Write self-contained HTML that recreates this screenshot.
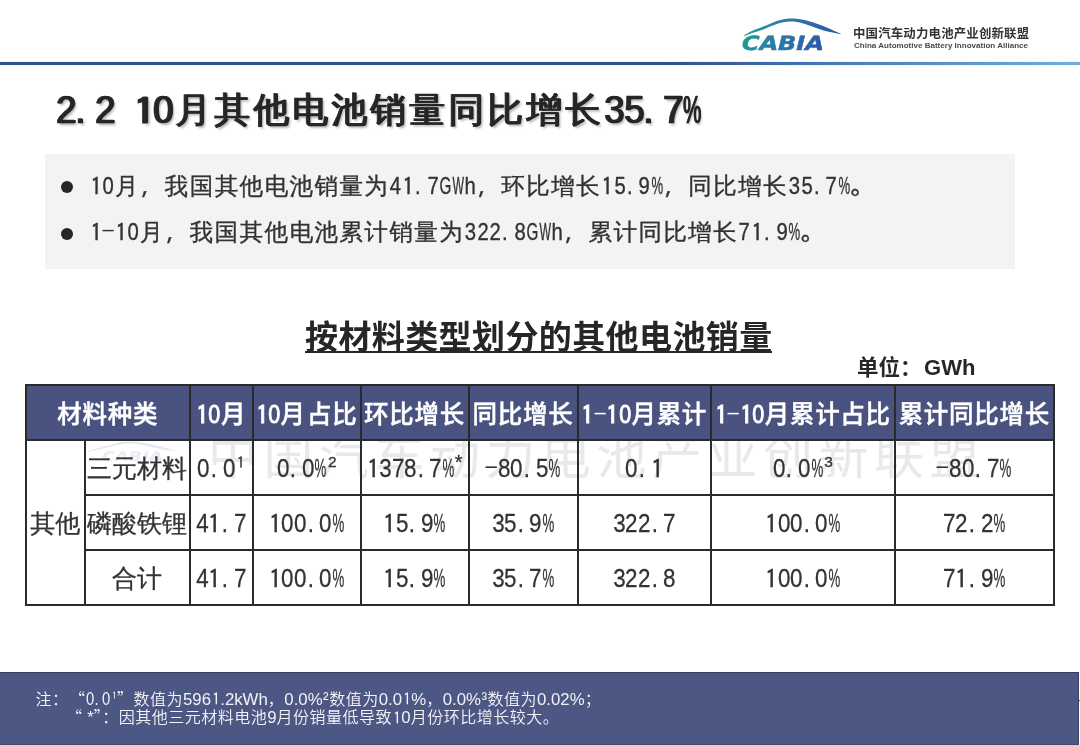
<!DOCTYPE html>
<html lang="zh-CN">
<head>
<meta charset="utf-8">
<title>2.2 10月其他电池销量同比增长35.7%</title>
<style>
*{margin:0;padding:0;box-sizing:border-box}
html,body{width:1080px;height:745px;overflow:hidden;background:#fff}
body{will-change:transform}
body{position:relative;font-family:"WenQuanYi Zen Hei","Noto Sans CJK SC",sans-serif;color:#333}
i{font-style:normal}
i.c{display:inline-block;text-align:left;white-space:nowrap;letter-spacing:0;overflow:visible}
i.g{display:inline-block;transform-origin:0 50%}
.h{font-family:"Liberation Sans",Arial,sans-serif;letter-spacing:0}
#topline{position:absolute;left:0;top:62px;width:1080px;height:3px;box-shadow:0 0 1px rgba(47,80,145,.5);background:linear-gradient(to right,#2f5091 0%,#2f5091 62%,#4c7fc4 80%,#72aee0 100%)}
#logo{position:absolute;left:738px;top:14px;width:110px;height:40px}
#cn{position:absolute;left:853px;top:24px;font:bold 12.4px "Noto Sans CJK SC",sans-serif;letter-spacing:0.2px;color:#333;white-space:nowrap}
#en{position:absolute;left:854px;top:40px;width:176px;height:10px}
#title{position:absolute;left:55.5px;top:83.5px;font-size:35.5px;letter-spacing:3.5px;line-height:48px;color:#262626;white-space:nowrap;-webkit-text-stroke:0.8px #262626;text-shadow:0.8px 0 0 #262626,1.6px 0 0 #262626,2.5px 2px 2.5px rgba(0,0,0,.35)}
#title .h{-webkit-text-stroke:0.6px #262626;position:relative;top:1px;font-weight:normal}
#box{position:absolute;left:45px;top:154px;width:970px;height:115px;background:#f2f3f3}
.bl{position:absolute;left:90px;font-family:"WenQuanYi Zen Hei Mono","WenQuanYi Zen Hei","Noto Sans CJK SC",sans-serif;font-size:23.5px;line-height:30px;color:#333;white-space:nowrap;letter-spacing:1.45px;-webkit-text-stroke:0.35px #333}
.dot{position:absolute;left:61px;width:12px;height:12px;border-radius:50%;background:#262626}
#ttitle{position:absolute;left:305px;top:314px;font:bold 33px "Noto Sans CJK SC",sans-serif;letter-spacing:0.4px;line-height:42px;color:#262626;white-space:nowrap}
#uline{position:absolute;left:304.5px;top:350.6px;width:467px;height:2.2px;background:#262626}
#unit{position:absolute;left:857px;top:352px;font:bold 21.5px "Liberation Sans","Noto Sans CJK SC",sans-serif;line-height:28px;color:#262626;white-space:nowrap}
#unit .cj{font-family:"Noto Sans CJK SC",sans-serif}
table{position:absolute;left:25px;top:384px;border-collapse:collapse;table-layout:fixed}
td,th{border:2px solid #2b2b2b;text-align:center;vertical-align:middle;white-space:nowrap;padding:0;overflow:visible}
th{background:#4a5380;color:#fff;font:bold 24.5px "Liberation Sans","Noto Sans CJK SC",sans-serif;height:55px;letter-spacing:0}
th .cj{font-family:"Noto Sans CJK SC",sans-serif;letter-spacing:0.7px;font-weight:500;-webkit-text-stroke:0.45px #fff}
th .h{font-weight:normal;-webkit-text-stroke:0.9px #fff}
th{word-spacing:-5px}
td{font-size:25px;color:#333;height:55px;letter-spacing:0;padding-top:2px;-webkit-text-stroke:0.3px #333}
.sup{position:relative;font-family:"Liberation Sans",sans-serif;font-size:15.5px;top:-10px;line-height:1;margin-left:1px}
#wm{position:absolute;left:208px;top:427px;font:400 50px/50px "Noto Sans CJK SC",sans-serif;color:#e9e9e9;white-space:nowrap;letter-spacing:5.5px}
#wml{position:absolute;left:84px;top:436px;width:104px;height:32px}
#foot{position:absolute;left:0;top:672px;width:1079px;height:73px;background:#4c5784;border-top:1.5px solid #3a3f5c;border-right:1.2px solid #3d4262;border-bottom:1px solid #454a68;color:#fff}
.one{font-family:IPAGothic,"Liberation Sans",sans-serif;font-size:0.983em;position:relative;top:0.05em;padding-left:0.06em}
#tick{position:absolute;left:1078px;top:700px;width:2px;height:1px;background:#555}
.fl{position:absolute;white-space:nowrap;font-size:16.8px;line-height:20px;font-family:"Liberation Sans","Noto Sans CJK SC",sans-serif;color:#f2f3f7}
.fl .cj{font-family:"Noto Sans CJK SC",sans-serif;font-size:16px;letter-spacing:0.5px;font-weight:350}
.fl .su{margin:0 0.5px}
</style>
</head>
<body>
<svg id="logo" viewBox="0 0 110 40" width="110" height="40">
  <defs>
    <linearGradient id="lg" x1="0" x2="1" y1="0" y2="0">
      <stop offset="0" stop-color="#1f9a8e"/>
      <stop offset="0.35" stop-color="#2a80a8"/>
      <stop offset="1" stop-color="#2e56a8"/>
    </linearGradient>
    <linearGradient id="lg2" x1="0" x2="1" y1="0" y2="0">
      <stop offset="0" stop-color="#25a090"/>
      <stop offset="0.3" stop-color="#2a85aa"/>
      <stop offset="1" stop-color="#2d55a6"/>
    </linearGradient>
  </defs>
  <path d="M6.4,21.2 C7.7,20.5 11.0,18.2 14.2,16.8 C17.3,15.4 21.2,14.2 25.3,12.6 C29.4,11.0 35.0,8.4 38.7,7.1 C42.4,5.8 44.3,5.3 47.6,4.9 C50.9,4.5 54.6,4.4 58.7,4.8 C62.8,5.2 67.4,6.2 72.0,7.5 C76.6,8.8 81.1,10.5 86.4,12.6 C91.7,14.7 100.7,19.0 103.6,20.3 L103.6,20.3 C100.7,19.7 91.7,18.1 86.4,16.7 C81.1,15.3 76.6,13.1 72.0,11.7 C67.4,10.2 62.8,8.6 58.7,8.0 C54.6,7.4 50.9,7.6 47.6,7.9 C44.3,8.2 42.4,8.8 38.7,10.0 C35.0,11.2 29.4,13.9 25.3,15.4 C21.2,16.9 17.3,17.8 14.2,18.9 C11.0,20.0 7.7,21.6 6.4,22.2 Z" fill="url(#lg2)"/>
  <text x="2.5" y="36" font-family="DejaVu Sans" font-weight="bold" font-size="19.5" fill="url(#lg)" stroke="url(#lg)" stroke-width="0.5" textLength="82" lengthAdjust="spacingAndGlyphs" transform="skewX(-14) translate(8.5,0)">CABIA</text>
</svg>
<div id="cn">中国汽车动力电池产业创新联盟</div>
<svg id="en" viewBox="0 0 176 10" width="176" height="10"><text x="0" y="8.2" font-family="Liberation Sans" font-weight="bold" font-size="8" fill="#4a4a4a" textLength="174" lengthAdjust="spacing">China Automotive Battery Innovation Alliance</text></svg>
<div id="topline"></div>
<div id="title"><span class="h" style="font-size:38.00px"><i class="c" style="width:19.50px"><i class="g" style="transform:translateX(-0.39px) scaleX(0.960)">2</i></i><i class="c" style="width:19.50px"><i class="g" style="transform:translateX(-0.20px) scaleX(0.960)">.</i></i><i class="c" style="width:19.50px"><i class="g" style="transform:translateX(-0.39px) scaleX(0.960)">2</i></i><i class="c" style="width:19.50px"> </i><i class="c" style="width:19.50px"><i class="g" style="font-family:IPAGothic,'Liberation Sans',sans-serif;font-size:37.35px;transform:translate(-0.72px,1.91px) scaleX(1.152);-webkit-text-stroke:1.14px currentColor">1</i></i><i class="c" style="width:19.50px"><i class="g" style="transform:translateX(-0.39px) scaleX(0.960)">0</i></i></span><span style="margin-left:2.5px">月其他电池销量同比增长</span><span class="h" style="font-size:38.00px"><i class="c" style="width:19.50px"><i class="g" style="transform:translateX(-0.28px) scaleX(0.960)">3</i></i><i class="c" style="width:19.50px"><i class="g" style="transform:translateX(-0.35px) scaleX(0.960)">5</i></i><i class="c" style="width:19.50px"><i class="g" style="transform:translateX(-0.20px) scaleX(0.960)">.</i></i><i class="c" style="width:19.50px"><i class="g" style="transform:translateX(-0.41px) scaleX(0.960)">7</i></i><i class="c" style="width:19.50px"><i class="g" style="transform:translateX(0.63px) scaleX(0.540)">%</i></i></span></div>
<div id="box"></div>
<div class="dot" style="top:181px"></div>
<div class="bl" style="top:170px"><span class="h" style="font-size:23.70px"><i class="c" style="width:12.45px"><i class="g" style="font-family:IPAGothic,'Liberation Sans',sans-serif;font-size:23.30px;transform:translate(0.30px,1.19px) scaleX(1.026)">1</i></i><i class="c" style="width:12.45px"><i class="g" style="transform:translateX(0.59px) scaleX(0.855)">0</i></i></span>月，我国其他电池销量为<span class="h" style="font-size:23.70px"><i class="c" style="width:12.45px"><i class="g" style="transform:translateX(0.65px) scaleX(0.855)">4</i></i><i class="c" style="width:12.45px"><i class="g" style="font-family:IPAGothic,'Liberation Sans',sans-serif;font-size:23.30px;transform:translate(0.30px,1.19px) scaleX(1.026)">1</i></i><i class="c" style="width:12.45px"><i class="g" style="transform:translateX(0.92px) scaleX(0.855)">.</i></i><i class="c" style="width:12.45px"><i class="g" style="transform:translateX(0.58px) scaleX(0.855)">7</i></i><i class="c" style="width:12.45px"><i class="g" style="transform:translateX(0.48px) scaleX(0.644)">G</i></i><i class="c" style="width:12.45px"><i class="g" style="transform:translateX(0.45px) scaleX(0.516)">W</i></i><i class="c" style="width:12.45px"><i class="g" style="transform:translateX(0.55px) scaleX(0.855)">h</i></i></span>，环比增长<span class="h" style="font-size:23.70px"><i class="c" style="width:12.45px"><i class="g" style="font-family:IPAGothic,'Liberation Sans',sans-serif;font-size:23.30px;transform:translate(0.30px,1.19px) scaleX(1.026)">1</i></i><i class="c" style="width:12.45px"><i class="g" style="transform:translateX(0.61px) scaleX(0.855)">5</i></i><i class="c" style="width:12.45px"><i class="g" style="transform:translateX(0.92px) scaleX(0.855)">.</i></i><i class="c" style="width:12.45px"><i class="g" style="transform:translateX(0.59px) scaleX(0.855)">9</i></i><i class="c" style="width:12.45px"><i class="g" style="transform:translateX(0.40px) scaleX(0.552)">%</i></i></span>，同比增长<span class="h" style="font-size:23.70px"><i class="c" style="width:12.45px"><i class="g" style="transform:translateX(0.65px) scaleX(0.855)">3</i></i><i class="c" style="width:12.45px"><i class="g" style="transform:translateX(0.61px) scaleX(0.855)">5</i></i><i class="c" style="width:12.45px"><i class="g" style="transform:translateX(0.92px) scaleX(0.855)">.</i></i><i class="c" style="width:12.45px"><i class="g" style="transform:translateX(0.58px) scaleX(0.855)">7</i></i><i class="c" style="width:12.45px"><i class="g" style="transform:translateX(0.40px) scaleX(0.552)">%</i></i></span>。</div>
<div class="dot" style="top:228px"></div>
<div class="bl" style="top:216px"><span class="h" style="font-size:23.70px"><i class="c" style="width:12.45px"><i class="g" style="font-family:IPAGothic,'Liberation Sans',sans-serif;font-size:23.30px;transform:translate(0.30px,1.19px) scaleX(1.026)">1</i></i><i class="c" style="width:12.45px"><i class="g" style="transform:translate(-1.39px,-2.01px) scale(1.930,0.75);-webkit-text-stroke:0">-</i></i><i class="c" style="width:12.45px"><i class="g" style="font-family:IPAGothic,'Liberation Sans',sans-serif;font-size:23.30px;transform:translate(0.30px,1.19px) scaleX(1.026)">1</i></i><i class="c" style="width:12.45px"><i class="g" style="transform:translateX(0.59px) scaleX(0.855)">0</i></i></span>月，我国其他电池累计销量为<span class="h" style="font-size:23.70px"><i class="c" style="width:12.45px"><i class="g" style="transform:translateX(0.65px) scaleX(0.855)">3</i></i><i class="c" style="width:12.45px"><i class="g" style="transform:translateX(0.59px) scaleX(0.855)">2</i></i><i class="c" style="width:12.45px"><i class="g" style="transform:translateX(0.59px) scaleX(0.855)">2</i></i><i class="c" style="width:12.45px"><i class="g" style="transform:translateX(0.92px) scaleX(0.855)">.</i></i><i class="c" style="width:12.45px"><i class="g" style="transform:translateX(0.59px) scaleX(0.855)">8</i></i><i class="c" style="width:12.45px"><i class="g" style="transform:translateX(0.48px) scaleX(0.644)">G</i></i><i class="c" style="width:12.45px"><i class="g" style="transform:translateX(0.45px) scaleX(0.516)">W</i></i><i class="c" style="width:12.45px"><i class="g" style="transform:translateX(0.55px) scaleX(0.855)">h</i></i></span>，累计同比增长<span class="h" style="font-size:23.70px"><i class="c" style="width:12.45px"><i class="g" style="transform:translateX(0.58px) scaleX(0.855)">7</i></i><i class="c" style="width:12.45px"><i class="g" style="font-family:IPAGothic,'Liberation Sans',sans-serif;font-size:23.30px;transform:translate(0.30px,1.19px) scaleX(1.026)">1</i></i><i class="c" style="width:12.45px"><i class="g" style="transform:translateX(0.92px) scaleX(0.855)">.</i></i><i class="c" style="width:12.45px"><i class="g" style="transform:translateX(0.59px) scaleX(0.855)">9</i></i><i class="c" style="width:12.45px"><i class="g" style="transform:translateX(0.40px) scaleX(0.552)">%</i></i></span>。</div>
<div id="ttitle">按材料类型划分的其他电池销量</div>
<div id="uline"></div>
<div id="unit"><span class="cj">单位：</span><span style="margin-left:2.5px;font-size:22px">GWh</span></div>
<div id="wm">中国汽车动力电池产业创新联盟</div>
<svg id="wml" viewBox="0 0 104 32" width="104" height="32">
  <g transform="translate(-3.5,2.8) scale(0.93,0.62)"><path d="M6.4,21.2 C7.7,20.5 11.0,18.2 14.2,16.8 C17.3,15.4 21.2,14.2 25.3,12.6 C29.4,11.0 35.0,8.4 38.7,7.1 C42.4,5.8 44.3,5.3 47.6,4.9 C50.9,4.5 54.6,4.4 58.7,4.8 C62.8,5.2 67.4,6.2 72.0,7.5 C76.6,8.8 81.1,10.5 86.4,12.6 C91.7,14.7 100.7,19.0 103.6,20.3 L103.6,20.3 C100.7,19.7 91.7,18.1 86.4,16.7 C81.1,15.3 76.6,13.1 72.0,11.7 C67.4,10.2 62.8,8.6 58.7,8.0 C54.6,7.4 50.9,7.6 47.6,7.9 C44.3,8.2 42.4,8.8 38.7,10.0 C35.0,11.2 29.4,13.9 25.3,15.4 C21.2,16.9 17.3,17.8 14.2,18.9 C11.0,20.0 7.7,21.6 6.4,22.2 Z" fill="#e3e7ef"/></g>
  <text x="17" y="25.5" font-family="DejaVu Sans" font-weight="bold" font-size="13" fill="#e9ecf3" textLength="61" lengthAdjust="spacingAndGlyphs" transform="skewX(-14) translate(6,0)">CABIA</text>
</svg>
<table>
<colgroup><col style="width:58.5px"><col style="width:105px"><col style="width:63px"><col style="width:108px"><col style="width:108px"><col style="width:109px"><col style="width:133.5px"><col style="width:183.5px"><col style="width:159.5px"></colgroup>
<tr><th colspan="2"><span class="cj">材料种类</span></th><th><span class="h" style="font-size:25px"><i class="c" style="width:12.50px"><i class="g" style="font-family:IPAGothic,'Liberation Sans',sans-serif;font-size:24.57px;transform:translate(0.01px,1.25px) scaleX(1.032)">1</i></i><i class="c" style="width:12.50px"><i class="g" style="transform:translateX(0.27px) scaleX(0.860)">0</i></i></span><span class="cj">月</span></th><th><span class="h" style="font-size:25px"><i class="c" style="width:12.50px"><i class="g" style="font-family:IPAGothic,'Liberation Sans',sans-serif;font-size:24.57px;transform:translate(0.01px,1.25px) scaleX(1.032)">1</i></i><i class="c" style="width:12.50px"><i class="g" style="transform:translateX(0.27px) scaleX(0.860)">0</i></i></span><span class="cj">月 占比</span></th><th><span class="cj">环比增长</span></th><th><span class="cj">同比增长</span></th><th><span class="h" style="font-size:25px"><i class="c" style="width:12.50px"><i class="g" style="font-family:IPAGothic,'Liberation Sans',sans-serif;font-size:24.57px;transform:translate(0.01px,1.25px) scaleX(1.032)">1</i></i><i class="c" style="width:12.50px"><i class="g" style="transform:translate(-1.40px,-2.12px) scale(1.837,0.75);-webkit-text-stroke:0">-</i></i><i class="c" style="width:12.50px"><i class="g" style="font-family:IPAGothic,'Liberation Sans',sans-serif;font-size:24.57px;transform:translate(0.01px,1.25px) scaleX(1.032)">1</i></i><i class="c" style="width:12.50px"><i class="g" style="transform:translateX(0.27px) scaleX(0.860)">0</i></i></span><span class="cj">月累计</span></th><th><span class="h" style="font-size:25px"><i class="c" style="width:12.50px"><i class="g" style="font-family:IPAGothic,'Liberation Sans',sans-serif;font-size:24.57px;transform:translate(0.01px,1.25px) scaleX(1.032)">1</i></i><i class="c" style="width:12.50px"><i class="g" style="transform:translate(-1.40px,-2.12px) scale(1.837,0.75);-webkit-text-stroke:0">-</i></i><i class="c" style="width:12.50px"><i class="g" style="font-family:IPAGothic,'Liberation Sans',sans-serif;font-size:24.57px;transform:translate(0.01px,1.25px) scaleX(1.032)">1</i></i><i class="c" style="width:12.50px"><i class="g" style="transform:translateX(0.27px) scaleX(0.860)">0</i></i></span><span class="cj">月累计占比</span></th><th><span class="cj">累计同比增长</span></th></tr>
<tr><td rowspan="3">其他</td><td>三元材料</td><td><span class="h" style="font-size:26.00px"><i class="c" style="width:12.60px"><i class="g" style="transform:translateX(0.08px) scaleX(0.860)">0</i></i><i class="c" style="width:12.60px"><i class="g" style="transform:translateX(0.67px) scaleX(0.860)">.</i></i><i class="c" style="width:12.60px"><i class="g" style="transform:translateX(0.08px) scaleX(0.860)">0</i></i></span><span class="sup"><span class="one">1</span></span></td><td><span class="h" style="font-size:26.00px"><i class="c" style="width:12.60px"><i class="g" style="transform:translateX(0.08px) scaleX(0.860)">0</i></i><i class="c" style="width:12.60px"><i class="g" style="transform:translateX(0.67px) scaleX(0.860)">.</i></i><i class="c" style="width:12.60px"><i class="g" style="transform:translateX(0.08px) scaleX(0.860)">0</i></i><i class="c" style="width:12.60px"><i class="g" style="transform:translateX(0.41px) scaleX(0.509)">%</i></i></span><span class="sup">2</span></td><td><span class="h" style="font-size:26.00px"><i class="c" style="width:12.60px"><i class="g" style="font-family:IPAGothic,'Liberation Sans',sans-serif;font-size:25.56px;transform:translate(-0.16px,1.30px) scaleX(1.032)">1</i></i><i class="c" style="width:12.60px"><i class="g" style="transform:translateX(0.15px) scaleX(0.860)">3</i></i><i class="c" style="width:12.60px"><i class="g" style="transform:translateX(0.07px) scaleX(0.860)">7</i></i><i class="c" style="width:12.60px"><i class="g" style="transform:translateX(0.08px) scaleX(0.860)">8</i></i><i class="c" style="width:12.60px"><i class="g" style="transform:translateX(0.67px) scaleX(0.860)">.</i></i><i class="c" style="width:12.60px"><i class="g" style="transform:translateX(0.07px) scaleX(0.860)">7</i></i><i class="c" style="width:12.60px"><i class="g" style="transform:translateX(0.41px) scaleX(0.509)">%</i></i></span><span class="sup" style="font-size:20px;top:-8px;margin-left:0">*</span></td><td><span class="h" style="font-size:26.00px"><i class="c" style="width:12.60px"><i class="g" style="transform:translate(-1.41px,-2.21px) scale(1.780,0.75);-webkit-text-stroke:0">-</i></i><i class="c" style="width:12.60px"><i class="g" style="transform:translateX(0.08px) scaleX(0.860)">8</i></i><i class="c" style="width:12.60px"><i class="g" style="transform:translateX(0.08px) scaleX(0.860)">0</i></i><i class="c" style="width:12.60px"><i class="g" style="transform:translateX(0.67px) scaleX(0.860)">.</i></i><i class="c" style="width:12.60px"><i class="g" style="transform:translateX(0.11px) scaleX(0.860)">5</i></i><i class="c" style="width:12.60px"><i class="g" style="transform:translateX(0.41px) scaleX(0.509)">%</i></i></span></td><td><span class="h" style="font-size:26.00px"><i class="c" style="width:12.60px"><i class="g" style="transform:translateX(0.08px) scaleX(0.860)">0</i></i><i class="c" style="width:12.60px"><i class="g" style="transform:translateX(0.67px) scaleX(0.860)">.</i></i><i class="c" style="width:12.60px"><i class="g" style="font-family:IPAGothic,'Liberation Sans',sans-serif;font-size:25.56px;transform:translate(-0.16px,1.30px) scaleX(1.032)">1</i></i></span></td><td><span class="h" style="font-size:26.00px"><i class="c" style="width:12.60px"><i class="g" style="transform:translateX(0.08px) scaleX(0.860)">0</i></i><i class="c" style="width:12.60px"><i class="g" style="transform:translateX(0.67px) scaleX(0.860)">.</i></i><i class="c" style="width:12.60px"><i class="g" style="transform:translateX(0.08px) scaleX(0.860)">0</i></i><i class="c" style="width:12.60px"><i class="g" style="transform:translateX(0.41px) scaleX(0.509)">%</i></i></span><span class="sup">3</span></td><td><span class="h" style="font-size:26.00px"><i class="c" style="width:12.60px"><i class="g" style="transform:translate(-1.41px,-2.21px) scale(1.780,0.75);-webkit-text-stroke:0">-</i></i><i class="c" style="width:12.60px"><i class="g" style="transform:translateX(0.08px) scaleX(0.860)">8</i></i><i class="c" style="width:12.60px"><i class="g" style="transform:translateX(0.08px) scaleX(0.860)">0</i></i><i class="c" style="width:12.60px"><i class="g" style="transform:translateX(0.67px) scaleX(0.860)">.</i></i><i class="c" style="width:12.60px"><i class="g" style="transform:translateX(0.07px) scaleX(0.860)">7</i></i><i class="c" style="width:12.60px"><i class="g" style="transform:translateX(0.41px) scaleX(0.509)">%</i></i></span></td></tr>
<tr><td>磷酸铁锂</td><td><span class="h" style="font-size:26.00px"><i class="c" style="width:12.60px"><i class="g" style="transform:translateX(0.15px) scaleX(0.860)">4</i></i><i class="c" style="width:12.60px"><i class="g" style="font-family:IPAGothic,'Liberation Sans',sans-serif;font-size:25.56px;transform:translate(-0.16px,1.30px) scaleX(1.032)">1</i></i><i class="c" style="width:12.60px"><i class="g" style="transform:translateX(0.67px) scaleX(0.860)">.</i></i><i class="c" style="width:12.60px"><i class="g" style="transform:translateX(0.07px) scaleX(0.860)">7</i></i></span></td><td><span class="h" style="font-size:26.00px"><i class="c" style="width:12.60px"><i class="g" style="font-family:IPAGothic,'Liberation Sans',sans-serif;font-size:25.56px;transform:translate(-0.16px,1.30px) scaleX(1.032)">1</i></i><i class="c" style="width:12.60px"><i class="g" style="transform:translateX(0.08px) scaleX(0.860)">0</i></i><i class="c" style="width:12.60px"><i class="g" style="transform:translateX(0.08px) scaleX(0.860)">0</i></i><i class="c" style="width:12.60px"><i class="g" style="transform:translateX(0.67px) scaleX(0.860)">.</i></i><i class="c" style="width:12.60px"><i class="g" style="transform:translateX(0.08px) scaleX(0.860)">0</i></i><i class="c" style="width:12.60px"><i class="g" style="transform:translateX(0.41px) scaleX(0.509)">%</i></i></span></td><td><span class="h" style="font-size:26.00px"><i class="c" style="width:12.60px"><i class="g" style="font-family:IPAGothic,'Liberation Sans',sans-serif;font-size:25.56px;transform:translate(-0.16px,1.30px) scaleX(1.032)">1</i></i><i class="c" style="width:12.60px"><i class="g" style="transform:translateX(0.11px) scaleX(0.860)">5</i></i><i class="c" style="width:12.60px"><i class="g" style="transform:translateX(0.67px) scaleX(0.860)">.</i></i><i class="c" style="width:12.60px"><i class="g" style="transform:translateX(0.08px) scaleX(0.860)">9</i></i><i class="c" style="width:12.60px"><i class="g" style="transform:translateX(0.41px) scaleX(0.509)">%</i></i></span></td><td><span class="h" style="font-size:26.00px"><i class="c" style="width:12.60px"><i class="g" style="transform:translateX(0.15px) scaleX(0.860)">3</i></i><i class="c" style="width:12.60px"><i class="g" style="transform:translateX(0.11px) scaleX(0.860)">5</i></i><i class="c" style="width:12.60px"><i class="g" style="transform:translateX(0.67px) scaleX(0.860)">.</i></i><i class="c" style="width:12.60px"><i class="g" style="transform:translateX(0.08px) scaleX(0.860)">9</i></i><i class="c" style="width:12.60px"><i class="g" style="transform:translateX(0.41px) scaleX(0.509)">%</i></i></span></td><td><span class="h" style="font-size:26.00px"><i class="c" style="width:12.60px"><i class="g" style="transform:translateX(0.15px) scaleX(0.860)">3</i></i><i class="c" style="width:12.60px"><i class="g" style="transform:translateX(0.08px) scaleX(0.860)">2</i></i><i class="c" style="width:12.60px"><i class="g" style="transform:translateX(0.08px) scaleX(0.860)">2</i></i><i class="c" style="width:12.60px"><i class="g" style="transform:translateX(0.67px) scaleX(0.860)">.</i></i><i class="c" style="width:12.60px"><i class="g" style="transform:translateX(0.07px) scaleX(0.860)">7</i></i></span></td><td><span class="h" style="font-size:26.00px"><i class="c" style="width:12.60px"><i class="g" style="font-family:IPAGothic,'Liberation Sans',sans-serif;font-size:25.56px;transform:translate(-0.16px,1.30px) scaleX(1.032)">1</i></i><i class="c" style="width:12.60px"><i class="g" style="transform:translateX(0.08px) scaleX(0.860)">0</i></i><i class="c" style="width:12.60px"><i class="g" style="transform:translateX(0.08px) scaleX(0.860)">0</i></i><i class="c" style="width:12.60px"><i class="g" style="transform:translateX(0.67px) scaleX(0.860)">.</i></i><i class="c" style="width:12.60px"><i class="g" style="transform:translateX(0.08px) scaleX(0.860)">0</i></i><i class="c" style="width:12.60px"><i class="g" style="transform:translateX(0.41px) scaleX(0.509)">%</i></i></span></td><td><span class="h" style="font-size:26.00px"><i class="c" style="width:12.60px"><i class="g" style="transform:translateX(0.07px) scaleX(0.860)">7</i></i><i class="c" style="width:12.60px"><i class="g" style="transform:translateX(0.08px) scaleX(0.860)">2</i></i><i class="c" style="width:12.60px"><i class="g" style="transform:translateX(0.67px) scaleX(0.860)">.</i></i><i class="c" style="width:12.60px"><i class="g" style="transform:translateX(0.08px) scaleX(0.860)">2</i></i><i class="c" style="width:12.60px"><i class="g" style="transform:translateX(0.41px) scaleX(0.509)">%</i></i></span></td></tr>
<tr><td>合计</td><td><span class="h" style="font-size:26.00px"><i class="c" style="width:12.60px"><i class="g" style="transform:translateX(0.15px) scaleX(0.860)">4</i></i><i class="c" style="width:12.60px"><i class="g" style="font-family:IPAGothic,'Liberation Sans',sans-serif;font-size:25.56px;transform:translate(-0.16px,1.30px) scaleX(1.032)">1</i></i><i class="c" style="width:12.60px"><i class="g" style="transform:translateX(0.67px) scaleX(0.860)">.</i></i><i class="c" style="width:12.60px"><i class="g" style="transform:translateX(0.07px) scaleX(0.860)">7</i></i></span></td><td><span class="h" style="font-size:26.00px"><i class="c" style="width:12.60px"><i class="g" style="font-family:IPAGothic,'Liberation Sans',sans-serif;font-size:25.56px;transform:translate(-0.16px,1.30px) scaleX(1.032)">1</i></i><i class="c" style="width:12.60px"><i class="g" style="transform:translateX(0.08px) scaleX(0.860)">0</i></i><i class="c" style="width:12.60px"><i class="g" style="transform:translateX(0.08px) scaleX(0.860)">0</i></i><i class="c" style="width:12.60px"><i class="g" style="transform:translateX(0.67px) scaleX(0.860)">.</i></i><i class="c" style="width:12.60px"><i class="g" style="transform:translateX(0.08px) scaleX(0.860)">0</i></i><i class="c" style="width:12.60px"><i class="g" style="transform:translateX(0.41px) scaleX(0.509)">%</i></i></span></td><td><span class="h" style="font-size:26.00px"><i class="c" style="width:12.60px"><i class="g" style="font-family:IPAGothic,'Liberation Sans',sans-serif;font-size:25.56px;transform:translate(-0.16px,1.30px) scaleX(1.032)">1</i></i><i class="c" style="width:12.60px"><i class="g" style="transform:translateX(0.11px) scaleX(0.860)">5</i></i><i class="c" style="width:12.60px"><i class="g" style="transform:translateX(0.67px) scaleX(0.860)">.</i></i><i class="c" style="width:12.60px"><i class="g" style="transform:translateX(0.08px) scaleX(0.860)">9</i></i><i class="c" style="width:12.60px"><i class="g" style="transform:translateX(0.41px) scaleX(0.509)">%</i></i></span></td><td><span class="h" style="font-size:26.00px"><i class="c" style="width:12.60px"><i class="g" style="transform:translateX(0.15px) scaleX(0.860)">3</i></i><i class="c" style="width:12.60px"><i class="g" style="transform:translateX(0.11px) scaleX(0.860)">5</i></i><i class="c" style="width:12.60px"><i class="g" style="transform:translateX(0.67px) scaleX(0.860)">.</i></i><i class="c" style="width:12.60px"><i class="g" style="transform:translateX(0.07px) scaleX(0.860)">7</i></i><i class="c" style="width:12.60px"><i class="g" style="transform:translateX(0.41px) scaleX(0.509)">%</i></i></span></td><td><span class="h" style="font-size:26.00px"><i class="c" style="width:12.60px"><i class="g" style="transform:translateX(0.15px) scaleX(0.860)">3</i></i><i class="c" style="width:12.60px"><i class="g" style="transform:translateX(0.08px) scaleX(0.860)">2</i></i><i class="c" style="width:12.60px"><i class="g" style="transform:translateX(0.08px) scaleX(0.860)">2</i></i><i class="c" style="width:12.60px"><i class="g" style="transform:translateX(0.67px) scaleX(0.860)">.</i></i><i class="c" style="width:12.60px"><i class="g" style="transform:translateX(0.08px) scaleX(0.860)">8</i></i></span></td><td><span class="h" style="font-size:26.00px"><i class="c" style="width:12.60px"><i class="g" style="font-family:IPAGothic,'Liberation Sans',sans-serif;font-size:25.56px;transform:translate(-0.16px,1.30px) scaleX(1.032)">1</i></i><i class="c" style="width:12.60px"><i class="g" style="transform:translateX(0.08px) scaleX(0.860)">0</i></i><i class="c" style="width:12.60px"><i class="g" style="transform:translateX(0.08px) scaleX(0.860)">0</i></i><i class="c" style="width:12.60px"><i class="g" style="transform:translateX(0.67px) scaleX(0.860)">.</i></i><i class="c" style="width:12.60px"><i class="g" style="transform:translateX(0.08px) scaleX(0.860)">0</i></i><i class="c" style="width:12.60px"><i class="g" style="transform:translateX(0.41px) scaleX(0.509)">%</i></i></span></td><td><span class="h" style="font-size:26.00px"><i class="c" style="width:12.60px"><i class="g" style="transform:translateX(0.07px) scaleX(0.860)">7</i></i><i class="c" style="width:12.60px"><i class="g" style="font-family:IPAGothic,'Liberation Sans',sans-serif;font-size:25.56px;transform:translate(-0.16px,1.30px) scaleX(1.032)">1</i></i><i class="c" style="width:12.60px"><i class="g" style="transform:translateX(0.67px) scaleX(0.860)">.</i></i><i class="c" style="width:12.60px"><i class="g" style="transform:translateX(0.08px) scaleX(0.860)">9</i></i><i class="c" style="width:12.60px"><i class="g" style="transform:translateX(0.41px) scaleX(0.509)">%</i></i></span></td></tr>
</table>
<div id="foot">
<div class="fl" style="left:35.5px;top:14.5px"><span class="cj">注：</span><span class="cj" style="margin-left:8.5px">“</span><span class="h" style="font-size:17.5px"><i class="c" style="width:8.15px"><i class="g" style="transform:translateX(-0.06px) scaleX(0.850)">0</i></i><i class="c" style="width:8.15px"><i class="g" style="transform:translateX(0.38px) scaleX(0.850)">.</i></i><i class="c" style="width:8.15px"><i class="g" style="transform:translateX(-0.06px) scaleX(0.850)">0</i></i></span><span class="sup" style="font-size:10px;top:-6px;margin-left:1.5px"><span class="one">1</span></span><span class="cj">”</span><span class="cj" style="margin-left:0px">数值为</span>596<span class="one">1</span>.2kWh<span class="cj">，</span>0.0%<span class="su">²</span><span class="cj">数值为</span>0.0<span class="one">1</span>%<span class="cj">，</span>0.0%<span class="su">³</span><span class="cj">数值为</span>0.02%<span class="cj">；</span></div>
<div class="fl" style="left:66px;top:33px"><span class="cj">“</span> *<span class="cj">”：因其他三元材料电池</span>9<span class="cj">月份销量低导致</span><span class="one">1</span>0<span class="cj">月份环比增长较大。</span></div>
</div>
<div id="tick"></div>
</body>
</html>
